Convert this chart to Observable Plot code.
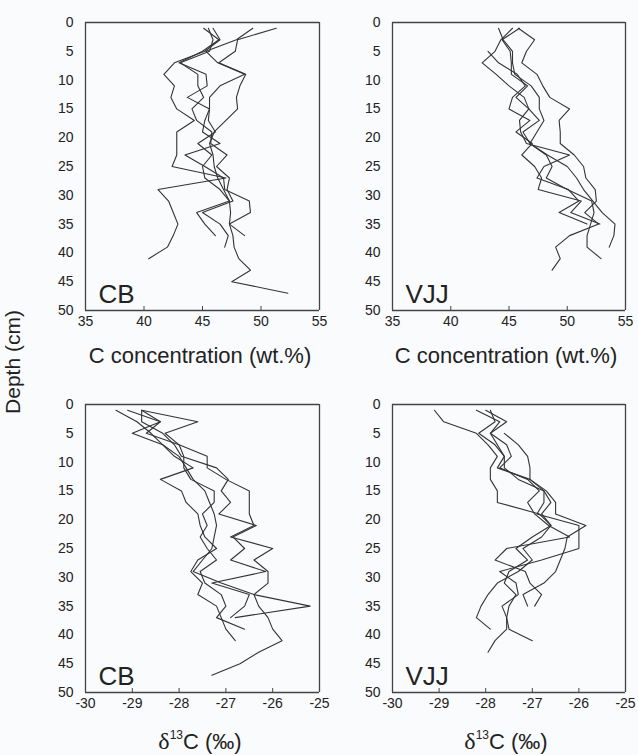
<!DOCTYPE html>
<html>
<head>
<meta charset="utf-8">
<script src="https://cdn.jsdelivr.net/npm/d3@7"></script>
<script src="https://cdn.jsdelivr.net/npm/@observablehq/plot@0.6"></script>
<style>
  html, body { margin: 0; padding: 0; background: #fafbfd; }
  #root { position: relative; width: 638px; height: 755px; font-family: "Liberation Sans", Arial, sans-serif; color: #222; }
  .panel { position: absolute; }
  .title { position: absolute; font-size: 22px; white-space: nowrap; transform: translate(-50%, -50%); }
  .ylab { position: absolute; font-size: 21px; white-space: nowrap; transform: translate(-50%, -50%) rotate(-90deg); }
  .delta { font-family: "Liberation Serif", "Times New Roman", serif; font-size: 24px; }
  .sup { font-size: 12px; position: relative; top: -10px; }
</style>
</head>
<body>
<div id="root"></div>
<script>
// Depth (cm) of each sample
const depth = [1,3,5,7,9,11,13,15,17,19,21,23,25,27,29,31,33,35,37,39,41,43,45,47];

// Tick labels
const concTicks = [35,40,45,50,55];
const d13Ticks = [-30,-29,-28,-27,-26,-25];
const depthTicks = [0,5,10,15,20,25,30,35,40,45,50];

// CB – C concentration (wt.%)
const cbC_A = [51.3,48.0,47.8,46.4,48.7,48.2,47.9,48.0,47.0,46.0,45.6,45.9,46.0,46.3,46.8,47.3,47.4,47.3,47.6,47.7,48.1,49.1,47.5,52.3];
const cbC_B = [45.9,46.5,45.2,42.6,41.7,42.6,42.3,42.8,44.3,42.8,42.8,42.8,42.4,47.0,41.2,42.1,42.5,42.9,42.5,42.0,40.4];
const cbC_C = [45.1,46.4,45.0,43.0,45.3,45.4,43.7,45.6,45.5,46.1,44.6,45.8,45.0,45.2,46.5,47.3,44.5,45.2,46.1];
const cbC_D = [45.5,45.9,45.6,43.1,44.6,44.6,45.1,44.1,44.5,45.8,45.7,47.1,46.2,47.3,47.1,47.6,45.0,46.5,47.2,46.9];
const cbC_E = [49.3,47.9,45.3,46.3,48.6,46.5,45.6,45.6,45.2,45.0,46.5,43.5,45.2,46.8,46.9,49.0,49.1,47.3,48.6];

// VJJ – C concentration (wt.%)
const vjC_A = [45.8,47.2,46.5,46.1,47.4,47.9,48.5,50.2,49.3,49.4,49.4,50.6,51.4,51.6,52.4,52.5,51.5,52.7,50.2,49.0,49.4,48.7];
const vjC_B = [44.1,44.5,45.3,45.3,45.5,46.9,47.6,47.6,48.0,47.4,46.8,48.3,50.0,50.8,51.4,52.2,53.0,54.1,54.0,53.6];
const vjC_C = [45.3,44.3,43.8,42.7,43.9,45.0,46.3,46.7,47.6,46.2,46.8,48.2,48.7,48.2,50.0,52.1,52.3,52.0,51.7,51.7,52.9];
const vjC_D = [45.9,44.4,45.1,45.2,45.2,46.6,45.6,46.7,45.9,46.0,46.5,50.2,48.0,47.4,50.1,51.0,49.3,51.7];
const vjC_E = [null,null,43.2,44.1,45.7,46.4,45.3,45.0,46.8,45.6,47.0,46.1,47.2,47.8,47.5,51.2,50.3,52.8];

// CB – δ13C (‰)
const cbD_A = [-28.8,-28.4,-28.7,-28.0,-27.4,-27.4,-27.0,-26.5,-26.5,-26.5,-26.4,-26.9,-26.0,-26.4,-26.1,-26.1,-26.4,-26.3,-26.1,-26.0,-25.8,-26.3,-26.7,-27.3];
const cbD_B = [-29.35,-28.9,-28.6,-28.35,-28.0,-27.85,-27.7,-27.45,-27.35,-27.25,-27.2,-27.25,-27.3,-27.5,-27.7,-27.1,-26.4,-25.2,-26.8];
const cbD_C = [-29.1,-28.4,-29.0,-28.35,-28.1,-27.7,-28.4,-27.95,-27.85,-27.6,-27.55,-27.45,-27.2,-27.6,-27.75,-27.5,-27.6,-27.2,-27.1,-27.0,-26.8];
const cbD_D = [-28.8,-27.6,-28.3,-28.0,-27.9,-27.9,-27.75,-27.25,-27.25,-27.5,-27.4,-27.55,-27.4,-27.2,-27.55,-27.45,-27.1,-27.0,-27.2,-26.6];
const cbD_E = [-28.8,-28.8,-28.35,-28.1,-27.95,-27.2,-26.95,-27.1,-26.9,-27.15,-26.35,-26.85,-26.6,-26.9,-26.15,-27.3,-26.5,-26.6,-26.9];

// VJJ – δ13C (‰)
const vjD_A = [-29.1,-28.9,-28.2,-27.95,-27.75,-27.9,-27.9,-27.75,-27.75,-26.85,-26.6,-26.8,-27.2,-27.0,-27.3,-27.75,-27.95,-28.1,-28.2,-27.9];
const vjD_B = [-28.2,-27.7,-27.9,-27.75,-27.6,-27.75,-27.05,-26.75,-26.75,-26.9,-26.0,-26.0,-26.0,-26.8,-27.7,-27.35,-27.3,-27.65,-27.55,-27.55,-27.8,-27.95];
const vjD_C = [-27.9,-27.8,-28.15,-27.8,-27.6,-27.6,-27.3,-26.75,-26.6,-26.8,-26.6,-27.0,-27.35,-27.1,-27.5,-27.6,-27.35,-27.5,-27.55,-27.5,-27.0];
const vjD_D = [null,null,-27.6,-27.3,-27.1,-27.05,-27.05,-26.7,-26.5,-26.5,-25.85,-26.25,-26.3,-26.4,-26.5,-26.75,-27.2,-27.1];
const vjD_E = [-28.0,-27.55,-27.9,-27.55,-27.45,-27.7,-27.1,-26.85,-27.1,-26.95,-26.65,-26.2,-27.55,-27.8,-27.15,-27.05,-26.8,-26.95];

function toRows(series) {
  const rows = [];
  series.forEach((vals, k) => vals.forEach((v, i) => {
    if (v != null) rows.push({core: k, depth: depth[i], value: v});
  }));
  return rows;
}

const root = document.getElementById("root");
const FONT = "Liberation Sans, Arial, sans-serif";
const H = 340, MT = 22, MB = 30;

function panel({series, xDomain, xTicks, site, left, top, width, marginLeft, marginRight}) {
  const svg = Plot.plot({
    width, height: H,
    marginLeft, marginRight, marginTop: MT, marginBottom: MB,
    style: {background: "transparent", fontFamily: FONT, fontSize: "14px", color: "#222", overflow: "visible"},
    x: {domain: xDomain},
    y: {domain: [0, 50], reverse: true},
    marks: [
      Plot.line(toRows(series), {x: "value", y: "depth", z: "core", stroke: "#333", strokeWidth: 1.1}),
      // frame drawn as rules on the domain edges
      Plot.ruleX(xDomain, {x: d => d, stroke: "#444", strokeWidth: 1.3}),
      Plot.ruleY([0, 50], {y: d => d, stroke: "#444", strokeWidth: 1.3}),
      // short inward ticks on the bottom edge
      Plot.ruleX(xTicks, {x: d => d, insetTop: H - MT - MB - 4, stroke: "#444", strokeWidth: 1}),
      Plot.axisX(xTicks, {tickSize: 0, tickPadding: 6, tickFormat: d => String(d), label: null, fill: "#222"}),
      Plot.axisY(depthTicks, {tickSize: 0, tickPadding: 12, tickFormat: d => String(d), label: null, fill: "#222"}),
      Plot.text([site], {frameAnchor: "bottom-left", text: d => d, textAnchor: "start", lineAnchor: "bottom", dx: 13, dy: -8, fontSize: 26, fill: "#222"})
    ]
  });
  const div = document.createElement("div");
  div.className = "panel";
  div.style.left = left + "px";
  div.style.top = top + "px";
  div.appendChild(svg);
  root.appendChild(div);
}

panel({series: [cbC_A, cbC_B, cbC_C, cbC_D, cbC_E], xDomain: [35, 55], xTicks: concTicks, site: "CB", left: 0, top: 0, width: 330, marginLeft: 85, marginRight: 11});
panel({series: [vjC_A, vjC_B, vjC_C, vjC_D, vjC_E], xDomain: [35, 55], xTicks: concTicks, site: "VJJ", left: 320, top: 0, width: 318, marginLeft: 72, marginRight: 13});
panel({series: [cbD_A, cbD_B, cbD_C, cbD_D, cbD_E], xDomain: [-30, -25], xTicks: d13Ticks, site: "CB", left: 0, top: 382, width: 330, marginLeft: 85, marginRight: 11});
panel({series: [vjD_A, vjD_B, vjD_C, vjD_D, vjD_E], xDomain: [-30, -25], xTicks: d13Ticks, site: "VJJ", left: 320, top: 382, width: 318, marginLeft: 72, marginRight: 13});

function addText(cls, html, x, y) {
  const d = document.createElement("div");
  d.className = cls;
  d.style.left = x + "px";
  d.style.top = y + "px";
  d.innerHTML = html;
  root.appendChild(d);
}
addText("title", "C concentration (wt.%)", 200, 356);
addText("title", "C concentration (wt.%)", 506, 356);
const dLabel = '<span class="delta">δ</span><span class="sup">13</span>C (‰)';
addText("title", dLabel, 200, 741);
addText("title", dLabel, 506, 741);
addText("ylab", "Depth (cm)", 13, 362);
</script>
</body>
</html>
